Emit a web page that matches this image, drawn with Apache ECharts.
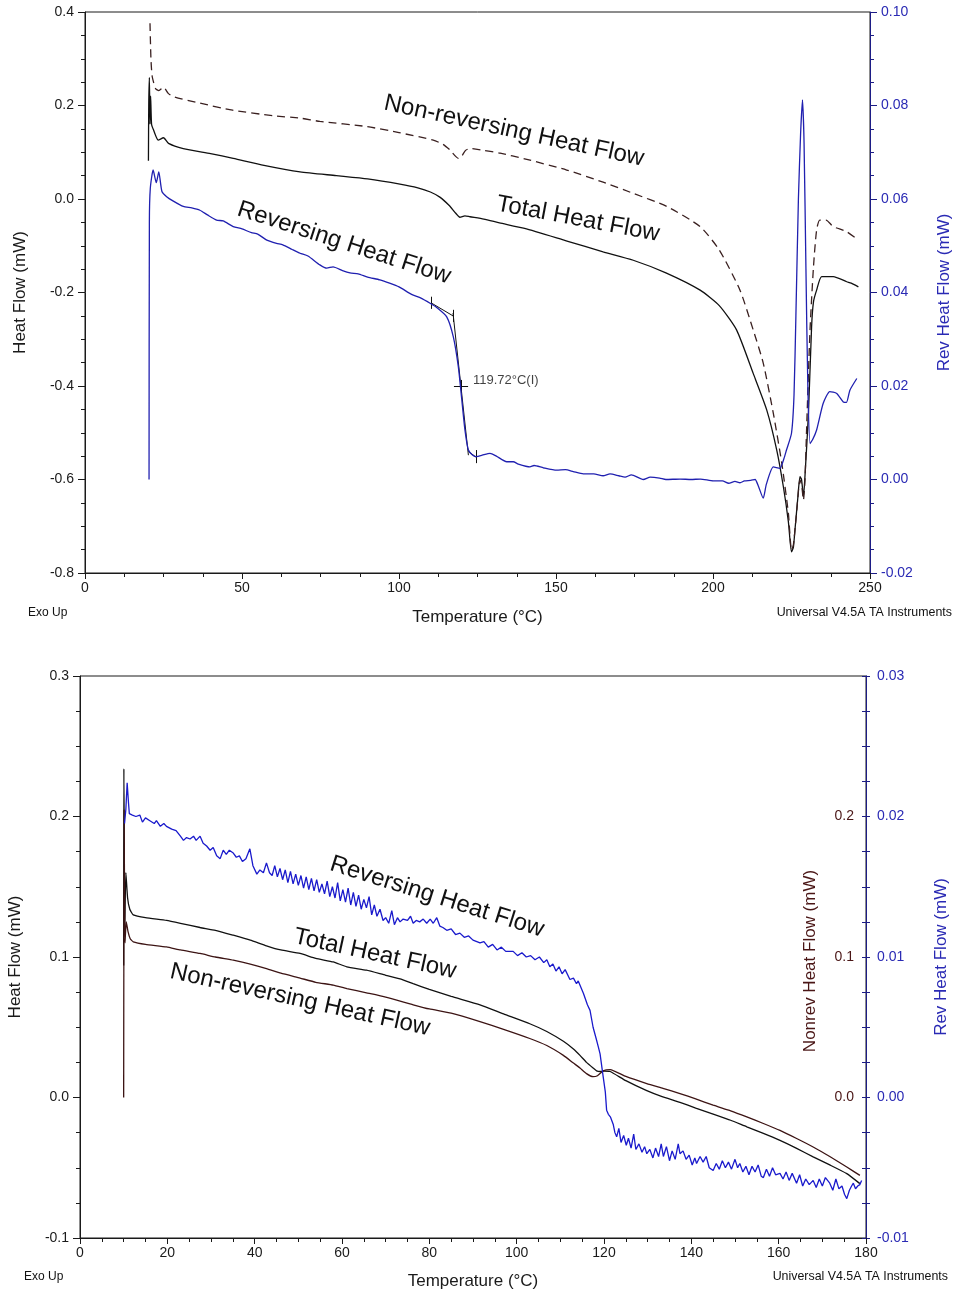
<!DOCTYPE html>
<html><head><meta charset="utf-8">
<script src="https://cdn.jsdelivr.net/npm/echarts@6/dist/echarts.min.js"></script>
<style>html,body{margin:0;padding:0;background:#fff}#c{width:956px;height:1291px}</style>
</head><body><div id="c"></div>
<script>
// ---------- TOP CHART DATA (temperature °C, value) ----------
const topTotal = [[20.2,0.082],[20.3,0.20],[20.5,0.26],[20.7,0.16],[20.9,0.22],[21.2,0.16],[21.8,0.148],[23.3,0.126],[25.0,0.131],[26.6,0.119],[31.3,0.108],[40,0.097],[47.2,0.087],[57,0.072],[68.5,0.058],[80,0.050],[90,0.043],[100.3,0.032],[106,0.024],[110,0.015],[113,0.004],[116,-0.014],[118,-0.030],[119.4,-0.039],[121,-0.036],[122.6,-0.038],[127,-0.043],[132,-0.051],[140,-0.063],[153.5,-0.090],[165,-0.113],[174.6,-0.131],[185,-0.158],[195.9,-0.195],[202,-0.228],[207.5,-0.280],[212.8,-0.373],[217.1,-0.451],[220.3,-0.537],[222.4,-0.615],[224,-0.690],[225,-0.755],[225.6,-0.745],[226.1,-0.708],[227,-0.640],[227.7,-0.594],[228.2,-0.600],[228.8,-0.637],[229.4,-0.580],[230.4,-0.458],[231.4,-0.273],[232,-0.220],[233,-0.195],[234.6,-0.166],[238.3,-0.166],[242.6,-0.177],[244,-0.180],[246.3,-0.188]];
const topNonrev = [[20.7,0.376],[21.0,0.300],[21.4,0.262],[22.5,0.236],[23.5,0.232],[25.0,0.239],[26.5,0.226],[28.1,0.219],[36.6,0.205],[47,0.190],[60,0.178],[68.5,0.173],[74.8,0.166],[89.7,0.155],[100,0.142],[110.9,0.126],[114,0.117],[116.2,0.105],[118.9,0.087],[120,0.092],[121.2,0.104],[122.6,0.108],[127,0.104],[132.2,0.098],[140,0.086],[153.4,0.062],[165,0.036],[174.6,0.012],[185.3,-0.016],[195.9,-0.059],[202,-0.109],[208.6,-0.195],[212.8,-0.280],[216,-0.351],[219.2,-0.458],[221.9,-0.565],[224,-0.672],[225,-0.751],[225.6,-0.740],[226.5,-0.680],[227.7,-0.601],[228.2,-0.610],[228.8,-0.644],[229.3,-0.600],[229.8,-0.494],[230.9,-0.280],[232,-0.145],[233,-0.066],[234,-0.045],[236,-0.045],[238.3,-0.059],[242.6,-0.070],[246.3,-0.088]];
const topRev = [[20.4,0.0],[20.5,0.055],[20.8,0.0623],[21.7,0.0662],[22.7,0.0635],[23.5,0.0658],[24.5,0.0616],[26,0.0605],[28,0.0596],[31.3,0.0584],[34,0.0581],[36.6,0.0576],[39,0.0566],[41.9,0.0555],[44,0.0553],[47.2,0.0541],[50,0.0536],[53,0.0528],[55,0.0525],[57.9,0.0512],[61,0.0505],[63,0.0502],[66,0.0492],[68.5,0.0484],[71,0.0478],[74.8,0.0459],[77,0.0452],[79,0.0455],[82,0.0447],[84.4,0.0442],[87,0.0440],[90,0.0433],[93.9,0.0427],[97,0.0420],[100,0.0412],[104,0.0396],[107,0.0388],[109.9,0.0377],[112,0.0368],[115.2,0.0348],[117.3,0.0305],[118.9,0.0241],[119.9,0.0177],[121,0.0106],[122.1,0.0063],[123.5,0.0052],[124.7,0.0049],[126.5,0.0052],[129,0.0056],[131,0.0050],[134.3,0.0038],[136.4,0.0038],[138,0.0033],[141.7,0.0027],[143,0.0030],[146,0.0025],[150.2,0.0020],[153,0.0021],[155.5,0.0017],[158.7,0.0012],[162,0.0012],[165,0.0008],[167.2,0.0012],[170,0.0008],[172,0.0005],[174,0.0010],[177.8,0.0000],[180,0.0005],[183,0.0003],[185,0.0000],[189.5,0.0001],[193,0.0000],[196,0.0001],[200.1,-0.0003],[203,-0.0003],[205,-0.0008],[207,-0.0004],[208.6,-0.0007],[210,-0.0003],[212,-0.0002],[213.4,0.0000],[214.5,-0.0015],[216,-0.0040],[217,-0.0010],[219.2,0.0027],[221.3,0.0024],[222.6,0.0045],[223.4,0.0063],[225,0.0099],[225.8,0.018],[226.4,0.035],[227.2,0.060],[227.9,0.074],[228.5,0.0812],[229.0,0.072],[229.6,0.045],[230.2,0.020],[230.9,0.0077],[231.7,0.0085],[233,0.0106],[235.1,0.0163],[237.2,0.0188],[239.4,0.0184],[241.5,0.0166],[242.5,0.0165],[243.6,0.0191],[245.8,0.0216]];
// glass-transition analysis marks (left-axis units)
const tgSegments = [
  [[110.2,-0.222],[117.2,-0.250]],
  [[110.2,-0.209],[110.2,-0.235]],
  [[117.2,-0.237],[117.2,-0.263]],
  [[117.2,-0.244],[122.1,-0.548]],
  [[122.1,-0.540],[124.7,-0.553]],
  [[124.7,-0.537],[124.7,-0.565]],
  [[117.5,-0.401],[122.0,-0.401]],
  [[119.72,-0.387],[119.72,-0.415]]
];
const tgPoint = [119.72, -0.401];
const tgLabel = '119.72°C(I)';

// ---------- BOTTOM CHART DATA ----------
const botTotal = [[10.0,0.094],[10.05,0.234],[10.25,0.120],[10.5,0.160],[10.9,0.142],[11.4,0.134],[12.2,0.130],[15,0.128],[19.8,0.126],[23,0.124],[27.5,0.121],[31,0.119],[35.1,0.1155],[39,0.112],[42.7,0.108],[46,0.105],[50.4,0.1025],[54,0.099],[58,0.0965],[61.1,0.093],[65.6,0.0906],[70,0.087],[73.3,0.0845],[76.3,0.081],[80,0.077],[85,0.072],[91.6,0.066],[97,0.0595],[103,0.0525],[106.9,0.047],[110.7,0.040],[113,0.0345],[114.5,0.030],[116,0.025],[117.5,0.021],[118.3,0.019],[119.1,0.0185],[120,0.0188],[121.4,0.0185],[125,0.012],[129.8,0.0049],[133,0.001],[137.4,-0.0035],[141,-0.0075],[145,-0.0118],[149,-0.0162],[152.7,-0.0209],[156.5,-0.0255],[160.3,-0.0305],[164,-0.036],[167.9,-0.0423],[171.7,-0.048],[175.6,-0.0542],[178.6,-0.0613]];
const botNonrev = [[10.0,0.0],[10.1,0.205],[10.3,0.110],[10.6,0.125],[11,0.118],[11.5,0.113],[12.2,0.1108],[15,0.109],[19.8,0.1072],[23,0.105],[27.5,0.1025],[31,0.100],[35.1,0.0977],[39,0.095],[42.7,0.0918],[46,0.0885],[50.4,0.085],[54,0.082],[58,0.080],[61.1,0.0775],[65.6,0.0745],[70,0.0715],[76.3,0.066],[80,0.063],[85,0.060],[91.6,0.054],[97,0.0485],[103,0.042],[106.9,0.037],[110.7,0.030],[113,0.0245],[114.5,0.021],[116,0.017],[117.5,0.0148],[118.5,0.0155],[119.8,0.019],[121.4,0.0199],[125,0.015],[129.8,0.0099],[133.5,0.0065],[137.4,0.0028],[141,-0.001],[145,-0.0055],[149,-0.0095],[152.7,-0.0138],[156.5,-0.0185],[160.3,-0.0234],[164,-0.029],[167.9,-0.0352],[171.7,-0.042],[175.6,-0.0495],[178.6,-0.0554]];
const botRev = [[10.2,0.0195],[10.5,0.0205],[10.8,0.0224],[11.1,0.021],[11.3,0.0202],[12,0.0201],[12.8,0.0200],[13.7,0.0201],[14.3,0.0196],[15,0.0199],[16,0.0197],[17,0.0195],[17.5,0.0197],[18.4,0.0193],[19.2,0.0195],[19.8,0.0193],[21,0.0191],[22,0.0190],[23,0.0186],[23.7,0.0183],[24.4,0.0185],[25.2,0.0184],[26,0.0186],[26.6,0.0183],[27.5,0.0186],[28.2,0.0181],[29,0.0179],[29.8,0.0176],[30.5,0.0178],[31.3,0.0172],[32.1,0.0170],[32.8,0.0176],[33.5,0.0173],[34.2,0.0176],[35.1,0.0174],[35.8,0.0171],[36.5,0.0172],[37.2,0.0168],[38,0.0170],[38.9,0.0177],[39.6,0.0165],[40.5,0.0159],[41.2,0.0162],[42,0.0160],[42.7,0.0167],[43.4,0.0160],[44,0.0158],[44.6,0.0165],[45.2,0.0157],[45.8,0.0163],[46.4,0.0155],[47,0.0162],[47.6,0.0153],[48.2,0.0161],[48.8,0.0152],[49.4,0.0159],[50,0.0151],[50.6,0.0158],[51.2,0.0149],[51.8,0.0157],[52.4,0.0148],[53,0.0156],[53.6,0.0147],[54.2,0.0155],[54.8,0.0146],[55.4,0.0152],[56,0.0145],[56.6,0.0154],[57.2,0.0143],[57.8,0.0150],[58.4,0.0142],[59,0.0153],[59.6,0.0140],[60.2,0.0148],[60.8,0.0139],[61.4,0.0149],[62,0.0137],[62.6,0.0146],[63.2,0.0136],[63.8,0.0144],[64.4,0.0134],[65,0.0141],[65.6,0.0135],[66.2,0.0143],[66.8,0.0130],[67.4,0.0137],[68,0.0129],[68.7,0.0134],[69.4,0.0126],[70,0.0128],[70.7,0.0124],[71.4,0.0133],[72,0.0123],[72.7,0.0128],[73.3,0.0125],[74,0.0127],[75,0.0126],[75.7,0.0129],[76.3,0.0124],[77,0.0126],[77.8,0.0125],[78.6,0.0127],[79.4,0.0124],[80.2,0.0127],[80.9,0.0124],[81.7,0.0128],[82.4,0.0122],[83.1,0.0121],[84,0.0119],[85,0.0120],[86,0.0116],[87,0.0117],[88,0.0114],[89,0.0115],[90,0.0112],[91.6,0.0110],[92.5,0.0111],[93.5,0.0107],[94.5,0.0109],[95.5,0.0105],[96.5,0.0107],[97.5,0.0104],[99.2,0.0104],[100.2,0.0101],[101.2,0.0103],[102.2,0.0100],[103.2,0.0101],[104.2,0.0098],[105.2,0.0100],[106.2,0.0096],[106.9,0.0098],[107.6,0.0093],[108.3,0.0095],[109,0.0090],[109.7,0.0093],[110.4,0.0088],[111.1,0.0091],[112.2,0.0084],[113,0.0085],[113.7,0.0081],[114.1,0.0083],[115.3,0.0074],[116.2,0.0066],[116.8,0.0062],[117.5,0.0050],[118.2,0.0042],[118.7,0.0036],[119.1,0.0031],[119.8,0.0015],[120.3,0.0004],[120.6,-0.0009],[121,-0.0012],[121.5,-0.0014],[122.1,-0.0019],[122.5,-0.0025],[122.9,-0.0028],[123.4,-0.0022],[123.9,-0.0032],[124.5,-0.0027],[125.1,-0.0034],[125.6,-0.0029],[126.2,-0.0036],[126.8,-0.0026],[127.3,-0.0037],[128,-0.0033],[128.7,-0.0039],[129.3,-0.0035],[129.8,-0.0040],[130.5,-0.0037],[131.2,-0.0043],[131.8,-0.0036],[132.5,-0.0042],[133.1,-0.0033],[133.6,-0.0042],[134.3,-0.0035],[135,-0.0045],[135.6,-0.0038],[136.3,-0.0044],[137,-0.0033],[137.4,-0.0040],[138.1,-0.0038],[138.8,-0.0044],[139.5,-0.0041],[140.2,-0.0048],[140.8,-0.0043],[141.2,-0.0047],[142,-0.0042],[142.7,-0.0046],[143.4,-0.0042],[144.1,-0.0050],[145,-0.0052],[145.7,-0.0047],[146.4,-0.0051],[147.1,-0.0045],[147.8,-0.0050],[148.5,-0.0046],[149.2,-0.0051],[150,-0.0044],[150.6,-0.0050],[151.1,-0.0047],[151.8,-0.0053],[152.5,-0.0049],[153.2,-0.0055],[153.9,-0.0049],[154.6,-0.0053],[155.3,-0.0048],[156,-0.0056],[156.5,-0.0057],[157.2,-0.0051],[157.9,-0.0056],[158.6,-0.0050],[159.3,-0.0055],[160.3,-0.0054],[161,-0.0058],[161.7,-0.0053],[162.4,-0.0059],[163.1,-0.0054],[164.1,-0.0061],[164.8,-0.0055],[165.5,-0.0063],[166.2,-0.0058],[167,-0.0062],[167.9,-0.0059],[168.6,-0.0064],[169.3,-0.0058],[170,-0.0063],[170.7,-0.0057],[171.7,-0.0061],[172.4,-0.0066],[173.1,-0.0058],[173.8,-0.0065],[174.5,-0.0063],[175.1,-0.0069],[175.6,-0.0072],[176.2,-0.0066],[176.7,-0.0063],[177.1,-0.0061],[177.6,-0.0065],[178.1,-0.0063],[178.6,-0.0062],[179,-0.0059]];

// ---------- axis ranges & labels ----------
const topX = {min:0, max:250, interval:50};
const topLeftY = {min:-0.8, max:0.4, interval:0.2};
const topRightY = {min:-0.02, max:0.10, interval:0.02};
const botX = {min:0, max:180, interval:20};
const botLeftY = {min:-0.1, max:0.3, interval:0.1};
const botRightY = {min:-0.01, max:0.03, interval:0.01};
const xTitle = 'Temperature (°C)';
const leftTitle = 'Heat Flow (mW)';
const revTitle = 'Rev Heat Flow (mW)';
const nonrevTitle = 'Nonrev Heat Flow (mW)';
const cornerLeft = 'Exo Up';
const cornerRight = 'Universal V4.5A TA Instruments';
const curveLabels = ['Non-reversing Heat Flow','Total Heat Flow','Reversing Heat Flow'];

const FONT = '"Liberation Sans", Arial, sans-serif';
const BLACK = '#1a1a1a', BLUE_LBL = '#2a2ab4', NAVY = '#1c1c86', BROWN = '#4a1616';
const fmt = d => v => (Math.abs(v) < 1e-9 ? 0 : v).toFixed(d);

function xAxis(grid, r, gap) {
  return {type:'value', gridIndex:grid, min:r.min, max:r.max, interval:r.interval,
    axisLine:{onZero:false, lineStyle:{color:BLACK, width:1}},
    axisTick:{length:6, lineStyle:{color:BLACK}},
    minorTick:{show:true, splitNumber:4, length:4, lineStyle:{color:BLACK}},
    splitLine:{show:false}, minorSplitLine:{show:false},
    axisLabel:{color:BLACK, fontSize:14, fontFamily:FONT, margin:8},
    name:xTitle, nameLocation:'middle', nameGap:gap,
    nameTextStyle:{color:BLACK, fontSize:17, fontFamily:FONT}};
}
function yAxis(grid, r, pos, opts) {
  const o = Object.assign({color:BLACK, line:BLACK, dec:1, name:'', gap:57, inside:false, margin:11, tickLen:7, minorLen:4}, opts||{});
  return {type:'value', gridIndex:grid, position:pos, min:r.min, max:r.max, interval:r.interval,
    axisLine:{show:true, onZero:false, lineStyle:{color:o.line, width:1}},
    axisTick:{show:true, inside:o.inside, length:o.tickLen, lineStyle:{color:o.line}},
    minorTick:{show:true, splitNumber:4, length:o.minorLen, lineStyle:{color:o.line}},
    splitLine:{show:false}, minorSplitLine:{show:false},
    axisLabel:{color:o.color, fontSize:14, fontFamily:FONT, margin:o.margin, inside:o.inside,
      formatter: o.formatter || fmt(o.dec)},
    name:o.name, nameLocation:'middle', nameGap:o.gap, nameRotate:90,
    nameTextStyle:{color:o.color, fontSize:17, fontFamily:FONT}};
}

const chart = echarts.init(document.getElementById('c'), null, {renderer:'canvas'});
const deg = Math.PI/180;
function label(text, x, y, angle, color) {
  return {type:'text', x:x, y:y, rotation:-angle*deg,
    style:{text:text, fill:color||'#111', font:'24px ' + FONT, textAlign:'center', textVerticalAlign:'middle'}};
}

chart.setOption({
  animation:false,
  backgroundColor:'#fff',
  grid:[
    {left:85, top:12, width:785, height:561, containLabel:false, outerBoundsMode:'none',
      show:true, borderColor:BLACK, borderWidth:1, backgroundColor:'transparent'},
    {left:80, top:676, width:786, height:562, containLabel:false, outerBoundsMode:'none',
      show:true, borderColor:BLACK, borderWidth:1, backgroundColor:'transparent'}
  ],
  xAxis:[xAxis(0, topX, 36), xAxis(1, botX, 35)],
  yAxis:[
    yAxis(0, topLeftY, 'left', {name:leftTitle, gap:56}),
    yAxis(0, topRightY, 'right', {name:revTitle, color:BLUE_LBL, line:NAVY, dec:2, gap:66}),
    yAxis(1, botLeftY, 'left', {name:leftTitle, gap:56}),
    yAxis(1, botRightY, 'right', {name:revTitle, color:BLUE_LBL, line:NAVY, dec:2, gap:67, tickLen:4, minorLen:4}),
    yAxis(1, botLeftY, 'right', {color:BROWN, line:NAVY, inside:true, margin:12, tickLen:4, minorLen:4,
      formatter: v => (v > -0.05 && v < 0.25) ? (Math.abs(v)<1e-9?0:v).toFixed(1) : ''})
  ],
  series:[
    {type:'line', name:'Total Heat Flow', xAxisIndex:0, yAxisIndex:0, data:topTotal, showSymbol:false, smooth:0.2,
      lineStyle:{color:'#111', width:1.3}},
    {type:'line', name:'Non-reversing Heat Flow', xAxisIndex:0, yAxisIndex:0, data:topNonrev, showSymbol:false, smooth:0.2,
      lineStyle:{color:'#3a2020', width:1.3, type:[8,5]}},
    {type:'line', name:'Reversing Heat Flow', xAxisIndex:0, yAxisIndex:1, data:topRev, showSymbol:false, smooth:0.2,
      lineStyle:{color:'#2020b0', width:1.3}},
    {type:'lines', coordinateSystem:'cartesian2d', xAxisIndex:0, yAxisIndex:0, polyline:false,
      data:tgSegments.map(s => ({coords:s})), lineStyle:{color:'#111', width:1, opacity:1}, silent:true},
    {type:'scatter', xAxisIndex:0, yAxisIndex:0, data:[tgPoint], symbolSize:0,
      label:{show:true, position:'right', distance:12, offset:[0,-6], formatter:tgLabel, color:'#111', fontSize:13, fontFamily:FONT}},
    {type:'line', name:'Total Heat Flow', xAxisIndex:1, yAxisIndex:2, data:botTotal, showSymbol:false, smooth:0.15,
      lineStyle:{color:'#111', width:1.3}},
    {type:'line', name:'Non-reversing Heat Flow', xAxisIndex:1, yAxisIndex:4, data:botNonrev, showSymbol:false, smooth:0.15,
      lineStyle:{color:'#3c1414', width:1.3}},
    {type:'line', name:'Reversing Heat Flow', xAxisIndex:1, yAxisIndex:3, data:botRev, showSymbol:false,
      lineStyle:{color:'#1a1acc', width:1.3}}
  ],
  graphic:[
    label(curveLabels[0], 514, 131, 12.3),
    label(curveLabels[1], 578, 219, 10.7),
    label(curveLabels[2], 344, 243, 18),
    label(curveLabels[0], 300, 1000, 12.5),
    label(curveLabels[1], 375, 954, 12.3),
    label(curveLabels[2], 437, 897, 17.5),
    {type:'text', x:28, y:613, style:{text:cornerLeft, fill:'#111', font:'12px ' + FONT, textVerticalAlign:'middle'}},
    {type:'text', x:952, y:613, style:{text:cornerRight, fill:'#111', font:'12.4px ' + FONT, textAlign:'right', textVerticalAlign:'middle'}},
    {type:'text', x:24, y:1277, style:{text:cornerLeft, fill:'#111', font:'12px ' + FONT, textVerticalAlign:'middle'}},
    {type:'text', x:948, y:1277, style:{text:cornerRight, fill:'#111', font:'12.4px ' + FONT, textAlign:'right', textVerticalAlign:'middle'}},
    {type:'text', x:810, y:961, rotation:Math.PI/2,
      style:{text:nonrevTitle, fill:BROWN, font:'17px ' + FONT, textAlign:'center', textVerticalAlign:'middle'}}
  ]
});
</script></body></html>
